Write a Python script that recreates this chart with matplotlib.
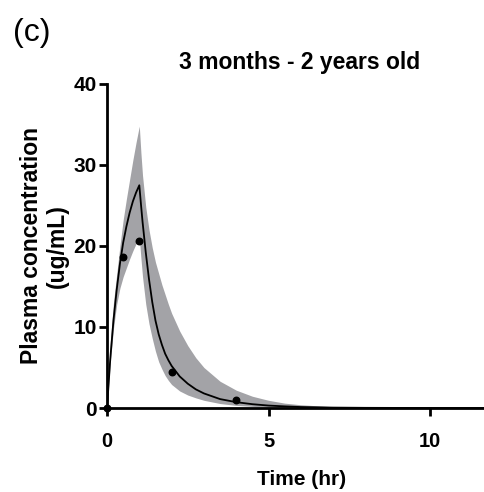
import matplotlib
matplotlib.use("Agg")
import matplotlib.pyplot as plt

# Model time grid (hr) and values
time_grid = [0, 0.1, 0.2, 0.3, 0.4, 0.5, 0.6, 0.7, 0.8, 0.9, 1.0, 1.05, 1.1, 1.2, 1.3,
             1.4, 1.5, 1.6, 1.7, 1.8, 1.9, 2.0, 2.25, 2.5, 2.75, 3.0, 3.5, 4.0, 4.5,
             5.0, 5.5, 6.0, 7.0, 8.0, 10.0, 12.0]
model_conc = [0, 6.0, 10.8, 14.6, 17.8, 20.4, 22.4, 24.1, 25.5, 26.6, 27.5, 25.2, 23.0,
              19.2, 15.9, 13.1, 10.8, 9.1, 7.8, 6.7, 5.9, 5.2, 3.9, 3.0, 2.3, 1.8,
              1.1, 0.72, 0.47, 0.3, 0.2, 0.12, 0.05, 0.02, 0.0, 0.0]
upper_band = [0, 8.0, 13.0, 16.5, 20.0, 23.2, 25.8, 28.2, 30.6, 32.8, 34.8, 31.5, 28.7,
              24.8, 22.0, 19.8, 18.0, 16.6, 15.2, 14.0, 12.8, 11.7, 9.5, 7.7, 6.2, 5.0,
              3.3, 2.2, 1.45, 0.95, 0.6, 0.4, 0.15, 0.05, 0.0, 0.0]
lower_band = [0, 5.5, 9.8, 12.8, 14.8, 16.2, 17.3, 18.4, 19.4, 20.3, 21.0, 18.5, 16.2,
              12.8, 10.4, 8.6, 7.0, 5.7, 4.8, 4.0, 3.4, 2.9, 2.1, 1.6, 1.25, 0.95, 0.55,
              0.32, 0.2, 0.1, 0.06, 0.03, 0.01, 0.0, 0.0, 0.0]

# Observed points
obs_time = [0, 0.5, 1.0, 2.0, 4.0]
obs_conc = [0, 18.6, 20.6, 4.4, 1.0]

x_ticks = [0, 5, 10]
y_ticks = [0, 10, 20, 30, 40]

plt.rcParams['font.family'] = ['Liberation Sans', 'DejaVu Sans']

fig = plt.figure(figsize=(4.85, 4.92), dpi=100)
ax = fig.add_axes([107 / 485, 84 / 492, 1 - 107 / 485, (408 - 84) / 492])

ax.fill_between(time_grid, lower_band, upper_band, color='#a3a3a7', linewidth=0)
ax.plot(time_grid, model_conc, color='black', linewidth=1.3)
ax.scatter(obs_time, obs_conc, s=22, color='black', zorder=5, clip_on=False)

ax.set_xlim(0, 11.7)
ax.set_ylim(0, 40)
ax.set_xticks(x_ticks)
ax.set_yticks(y_ticks)

for side in ['top', 'right']:
    ax.spines[side].set_visible(False)
for side in ['left', 'bottom']:
    ax.spines[side].set_linewidth(2.0)

ax.tick_params(axis='both', direction='out', length=6, width=2.0)
ax.tick_params(axis='x', pad=11, labelsize=14.5)
ax.tick_params(axis='y', pad=1.5, labelsize=15)
for lab in ax.get_xticklabels() + ax.get_yticklabels():
    lab.set_fontweight('bold')

ax.set_xlabel('Time (hr)', fontsize=15, fontweight='bold')
ax.xaxis.set_label_coords(0.516, -0.19)
ax.set_ylabel('Plasma concentration\n(ug/mL)', fontsize=16.5, fontweight='bold',
              linespacing=1.15)
ax.yaxis.set_label_coords(-0.100, 0.5)

fig.text(300 / 485, 1 - 63 / 492, '3 months - 2 years old', ha='center', va='center',
         fontsize=16.5, fontweight='bold')
fig.text(13 / 485, 1 - 33 / 492, '(c)', ha='left', va='center', fontsize=23)

fig.savefig('out.png', dpi=100)
